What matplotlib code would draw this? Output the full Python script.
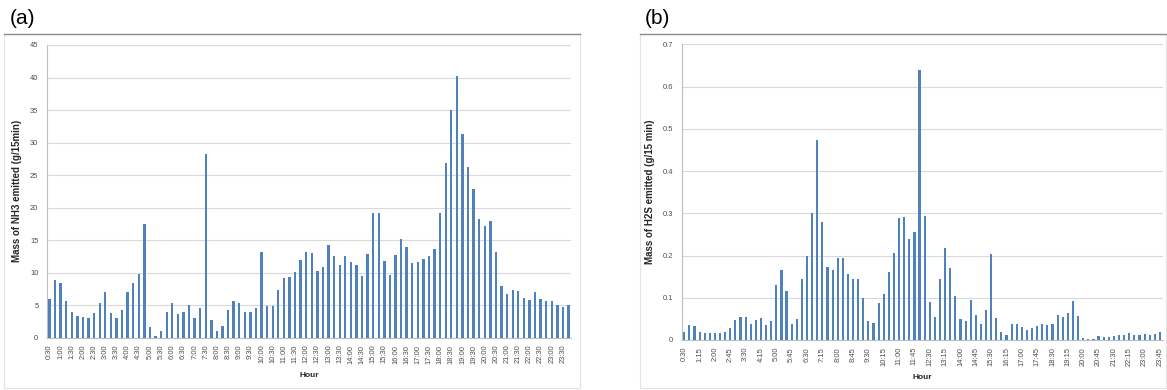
import numpy as np
import matplotlib
matplotlib.use("Agg")
import matplotlib.pyplot as plt
from matplotlib.patches import Rectangle
from matplotlib.lines import Line2D

# NH3 emission, one bar per 15 min from 0:30 to 23:45
nh3 = [5.9, 8.8, 8.4, 5.6, 3.9, 3.3, 3.2, 3.0, 3.8, 5.4,
       7.0, 3.8, 3.0, 4.2, 7.0, 8.4, 9.8, 17.5, 1.6, 0.25,
       1.0, 4.0, 5.4, 3.7, 3.9, 5.0, 3.0, 4.6, 28.3, 2.7,
       1.0, 1.8, 4.3, 5.6, 5.3, 4.0, 4.0, 4.5, 13.1, 4.8,
       4.8, 7.4, 9.2, 9.3, 10.1, 11.9, 13.1, 13.0, 10.3, 10.8,
       14.2, 12.5, 11.2, 12.5, 11.6, 11.2, 9.5, 12.8, 19.2, 19.2,
       11.8, 9.7, 12.7, 15.1, 14.0, 11.5, 11.7, 12.1, 12.5, 13.7,
       19.2, 26.9, 35.0, 40.2, 31.3, 26.2, 22.9, 18.3, 17.1, 18.0,
       13.2, 7.9, 6.7, 7.3, 7.2, 6.1, 5.8, 7.1, 6.0, 5.7,
       5.6, 5.0, 4.7, 5.1]

# H2S emission, same time steps
h2s = [0.018, 0.036, 0.032, 0.020, 0.016, 0.016, 0.017, 0.017, 0.020, 0.029,
       0.047, 0.054, 0.054, 0.038, 0.047, 0.051, 0.036, 0.045, 0.130, 0.166,
       0.116, 0.037, 0.049, 0.145, 0.200, 0.300, 0.474, 0.280, 0.173, 0.166,
       0.193, 0.193, 0.156, 0.144, 0.144, 0.100, 0.045, 0.041, 0.088, 0.110,
       0.162, 0.207, 0.288, 0.292, 0.238, 0.255, 0.638, 0.293, 0.091, 0.054,
       0.145, 0.217, 0.171, 0.104, 0.049, 0.046, 0.094, 0.060, 0.039, 0.071,
       0.204, 0.052, 0.018, 0.013, 0.039, 0.039, 0.031, 0.024, 0.028, 0.033,
       0.037, 0.036, 0.039, 0.060, 0.055, 0.063, 0.093, 0.056, 0.005, 0.002,
       0.003, 0.009, 0.006, 0.006, 0.010, 0.013, 0.013, 0.016, 0.012, 0.012,
       0.014, 0.013, 0.014, 0.020]

labels_a = ["0:30", "1:00", "1:30", "2:00", "2:30", "3:00", "3:30", "4:00",
            "4:30", "5:00", "5:30", "6:00", "6:30", "7:00", "7:30", "8:00",
            "8:30", "9:00", "9:30", "10:00", "10:30", "11:00", "11:30", "12:00",
            "12:30", "13:00", "13:30", "14:00", "14:30", "15:00", "15:30", "16:00",
            "16:30", "17:00", "17:30", "18:00", "18:30", "19:00", "19:30", "20:00",
            "20:30", "21:00", "21:30", "22:00", "22:30", "23:00", "23:30"]

labels_b = ["0:30", "1:15", "2:00", "2:45", "3:30", "4:15", "5:00", "5:45",
            "6:30", "7:15", "8:00", "8:45", "9:30", "10:15", "11:00", "11:45",
            "12:30", "13:15", "14:00", "14:45", "15:30", "16:15", "17:00", "17:45",
            "18:30", "19:15", "20:00", "20:45", "21:30", "22:15", "23:00", "23:45"]

W, H = 1167, 390
BLUE = "#4F81BD"
GRID = "#d9d9d9"
TXT = "#4d4d4d"
plt.rcParams['font.family'] = ['Liberation Sans', 'DejaVu Sans']

fig = plt.figure(figsize=(W / 100, H / 100), dpi=100)


def px_axes(x0, x1, ytop, ybot):
    return fig.add_axes([x0 / W, 1 - ybot / H, (x1 - x0) / W, (ybot - ytop) / H])


def frame(x0, x1, ytop, ybot):
    fig.add_artist(Rectangle((x0 / W, 1 - ybot / H), (x1 - x0) / W, (ybot - ytop) / H,
                             transform=fig.transFigure, fill=False, edgecolor="#e3e3e3", lw=0.8))
    fig.add_artist(Line2D([x0 / W, x1 / W], [1 - ytop / H, 1 - ytop / H],
                          transform=fig.transFigure, color="#8c8c8c", lw=1.0))


def draw(ax, vals, labels, step, ymax, ystep, ylabel):
    x = np.arange(len(vals))
    ax.bar(x, vals, width=0.42, color=BLUE, zorder=3)
    ax.set_xlim(-0.5, len(vals) - 0.5)
    ax.set_ylim(0, ymax)
    ax.set_yticks(np.arange(0, ymax + ystep / 2, ystep))
    ax.yaxis.grid(True, color=GRID, lw=0.8, zorder=0)
    ax.set_xticks(np.arange(len(labels)) * step)
    ax.set_xticklabels(labels, rotation=90)
    ax.tick_params(axis='x', length=0, pad=5, labelsize=5.4, colors=TXT)
    ax.tick_params(axis='y', length=0, pad=6, labelsize=5.4, colors=TXT)
    for s in ["top", "right"]:
        ax.spines[s].set_visible(False)
    ax.spines["left"].set_color("#bfbfbf")
    ax.spines["bottom"].set_color("#bfbfbf")
    ax.spines["left"].set_linewidth(0.8)
    ax.spines["bottom"].set_linewidth(0.8)
    ax.set_ylabel(ylabel, fontsize=7.0, fontweight="bold", color="#262626", labelpad=6)
    ax.set_xlabel("Hour", fontsize=6.0, fontweight="bold", color="#262626", labelpad=6)
    ax.set_facecolor("none")


frame(4, 580, 34, 388)
frame(640, 1166, 34, 388)

ax1 = px_axes(46.7, 571.3, 45, 337.7)
draw(ax1, nh3, labels_a, 2, 45, 5, "Mass of NH3 emitted (g/15min)")

ax2 = px_axes(681.7, 1162.5, 44.3, 340)
draw(ax2, h2s, labels_b, 3, 0.7, 0.1, "Mass of H2S emitted (g/15 min)")
ax2.set_yticklabels(["0", "0.1", "0.2", "0.3", "0.4", "0.5", "0.6", "0.7"])

fig.text(10 / W, 1 - 19 / H, "(a)", fontsize=15, va="center", ha="left")
fig.text(645 / W, 1 - 19 / H, "(b)", fontsize=15, va="center", ha="left")

fig.savefig("out.png", dpi=100)
